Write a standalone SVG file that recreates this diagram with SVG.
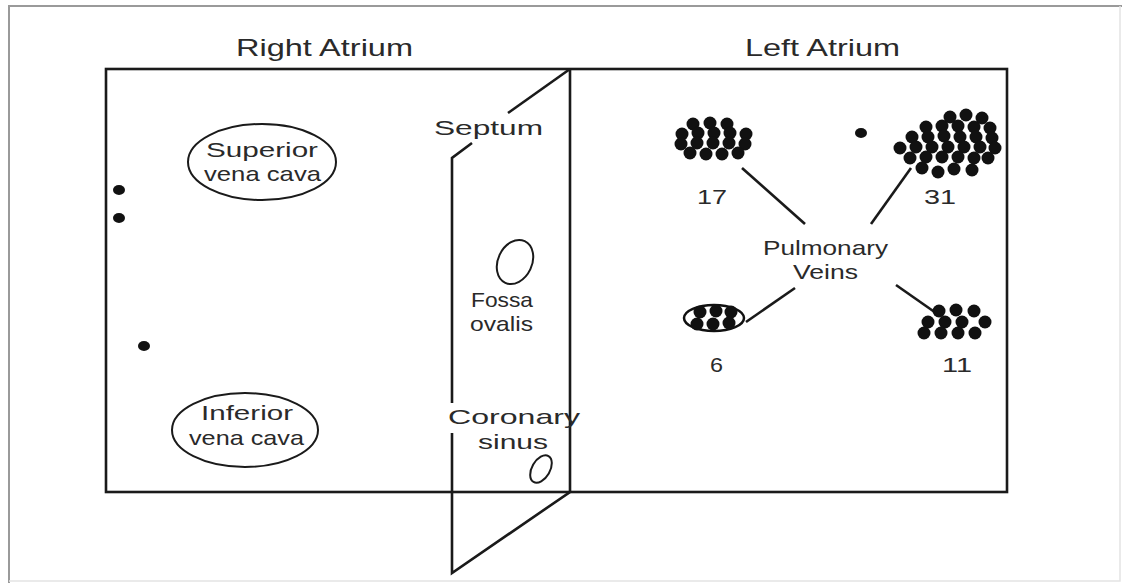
<svg xmlns="http://www.w3.org/2000/svg" width="1122" height="583" viewBox="0 0 1122 583">
<style>
.ln{stroke:#1a1a1a;stroke-width:2.6;fill:none}
.el{stroke:#1a1a1a;stroke-width:2;fill:none}
.t{font-family:"Liberation Sans",Arial,sans-serif;font-size:21px;fill:#2a2a2a}
.h{font-family:"Liberation Sans Narrow","Liberation Sans",Arial,sans-serif;font-size:24px;fill:#2a2a2a}
.d{fill:#111}
</style>
<rect x="0" y="0" width="1122" height="583" fill="#fff"/>
<g id="frame">
<path d="M9 583 V6 H1122" stroke="#9a9a9a" stroke-width="2" fill="none"/>
<path d="M1120 6 V581 H9" stroke="#e4e4e4" stroke-width="1.5" fill="none"/>
</g>
<g id="titles">
<text class="h" x="236" y="56" textLength="177" lengthAdjust="spacingAndGlyphs">Right Atrium</text>
<text class="h" x="745" y="56" textLength="155" lengthAdjust="spacingAndGlyphs">Left Atrium</text>
</g>
<g id="atria">
<rect class="ln" x="106" y="69" width="901" height="423"/>
</g>
<g id="septum">
<path class="ln" d="M570 69 V492 L452 573 V433"/>
<path class="ln" d="M452 403 V158 L472 143"/>
<path class="ln" d="M508 113 L570 69"/>
<text class="t" x="434" y="135" textLength="109" lengthAdjust="spacingAndGlyphs">Septum</text>
</g>
<g id="svc">
<ellipse class="el" cx="262" cy="162" rx="74" ry="38"/>
<text class="t" x="206" y="157" textLength="112" lengthAdjust="spacingAndGlyphs">Superior</text>
<text class="t" x="204" y="181" textLength="117" lengthAdjust="spacingAndGlyphs">vena cava</text>
</g>
<g id="ivc">
<ellipse class="el" cx="245" cy="430" rx="73" ry="37"/>
<text class="t" x="201" y="420" textLength="92" lengthAdjust="spacingAndGlyphs">Inferior</text>
<text class="t" x="189" y="445" textLength="115" lengthAdjust="spacingAndGlyphs">vena cava</text>
</g>
<g id="fossa">
<ellipse class="el" cx="515" cy="262" rx="17" ry="23" transform="rotate(25 515 262)"/>
<text class="t" x="471" y="307" textLength="62" lengthAdjust="spacingAndGlyphs">Fossa</text>
<text class="t" x="470" y="331" textLength="63" lengthAdjust="spacingAndGlyphs">ovalis</text>
</g>
<g id="coronary">
<ellipse class="el" cx="541" cy="469" rx="9" ry="15" transform="rotate(30 541 469)"/>
<text class="t" x="448" y="424" textLength="132" lengthAdjust="spacingAndGlyphs">Coronary</text>
<text class="t" x="478" y="449" textLength="70" lengthAdjust="spacingAndGlyphs">sinus</text>
</g>
<g id="ra-dots" class="d">
<ellipse cx="119" cy="190" rx="6" ry="5"/>
<ellipse cx="119" cy="218" rx="6" ry="5"/>
<ellipse cx="144" cy="346" rx="6" ry="5"/>
<ellipse cx="861" cy="133" rx="6" ry="5"/>
</g>
<g id="connectors">
<path class="ln" d="M742 168 L805 224"/>
<path class="ln" d="M911 168 L871 224"/>
<path class="ln" d="M746 322 L795 288"/>
<path class="ln" d="M896 285 L936 313"/>
</g>
<g id="pulmonary">
<text class="t" x="763" y="255" textLength="125" lengthAdjust="spacingAndGlyphs">Pulmonary</text>
<text class="t" x="793" y="279" textLength="65" lengthAdjust="spacingAndGlyphs">Veins</text>
</g>
<g id="pv17">
<g class="d">
<circle cx="693" cy="124" r="6.5"/><circle cx="710" cy="123" r="6.5"/><circle cx="727" cy="124" r="6.5"/>
<circle cx="682" cy="134" r="6.5"/><circle cx="698" cy="133" r="6.5"/><circle cx="714" cy="133" r="6.5"/><circle cx="730" cy="133" r="6.5"/><circle cx="746" cy="134" r="6.5"/>
<circle cx="681" cy="144" r="6.5"/><circle cx="697" cy="143" r="6.5"/><circle cx="713" cy="143" r="6.5"/><circle cx="729" cy="143" r="6.5"/><circle cx="745" cy="144" r="6.5"/>
<circle cx="690" cy="153" r="6.5"/><circle cx="706" cy="154" r="6.5"/><circle cx="722" cy="154" r="6.5"/><circle cx="738" cy="153" r="6.5"/>
</g>
<text class="t" x="697" y="204" textLength="30" lengthAdjust="spacingAndGlyphs">17</text>
</g>
<g id="pv31">
<g class="d">
<circle cx="950" cy="117" r="6.5"/><circle cx="966" cy="115" r="6.5"/><circle cx="982" cy="118" r="6.5"/>
<circle cx="926" cy="127" r="6.5"/><circle cx="942" cy="126" r="6.5"/><circle cx="958" cy="126" r="6.5"/><circle cx="974" cy="127" r="6.5"/><circle cx="990" cy="128" r="6.5"/>
<circle cx="912" cy="137" r="6.5"/><circle cx="928" cy="137" r="6.5"/><circle cx="944" cy="136" r="6.5"/><circle cx="960" cy="137" r="6.5"/><circle cx="976" cy="137" r="6.5"/><circle cx="992" cy="138" r="6.5"/>
<circle cx="900" cy="148" r="6.5"/><circle cx="916" cy="147" r="6.5"/><circle cx="932" cy="147" r="6.5"/><circle cx="948" cy="147" r="6.5"/><circle cx="964" cy="147" r="6.5"/><circle cx="980" cy="147" r="6.5"/><circle cx="995" cy="148" r="6.5"/>
<circle cx="910" cy="158" r="6.5"/><circle cx="926" cy="157" r="6.5"/><circle cx="942" cy="157" r="6.5"/><circle cx="958" cy="157" r="6.5"/><circle cx="974" cy="158" r="6.5"/><circle cx="988" cy="158" r="6.5"/>
<circle cx="922" cy="168" r="6.5"/><circle cx="938" cy="172" r="6.5"/><circle cx="954" cy="169" r="6.5"/><circle cx="972" cy="170" r="6.5"/>
</g>
<text class="t" x="924" y="204" textLength="32" lengthAdjust="spacingAndGlyphs">31</text>
</g>
<g id="pv6">
<ellipse cx="714" cy="318" rx="30" ry="13" fill="#fff" stroke="#111" stroke-width="2.5"/>
<g class="d">
<circle cx="700" cy="312" r="6.5"/><circle cx="716" cy="311" r="6.5"/><circle cx="731" cy="312" r="6.5"/>
<circle cx="697" cy="324" r="6.5"/><circle cx="713" cy="324" r="6.5"/><circle cx="729" cy="323" r="6.5"/>
</g>
<text class="t" x="710" y="372" textLength="13" lengthAdjust="spacingAndGlyphs">6</text>
</g>
<g id="pv11">
<g class="d">
<circle cx="939" cy="311" r="6.5"/><circle cx="956" cy="310" r="6.5"/><circle cx="974" cy="311" r="6.5"/>
<circle cx="928" cy="322" r="6.5"/><circle cx="945" cy="322" r="6.5"/><circle cx="962" cy="322" r="6.5"/><circle cx="985" cy="322" r="6.5"/>
<circle cx="924" cy="333" r="6.5"/><circle cx="941" cy="333" r="6.5"/><circle cx="958" cy="333" r="6.5"/><circle cx="975" cy="333" r="6.5"/>
</g>
<text class="t" x="942" y="372" textLength="30" lengthAdjust="spacingAndGlyphs">11</text>
</g>
</svg>
